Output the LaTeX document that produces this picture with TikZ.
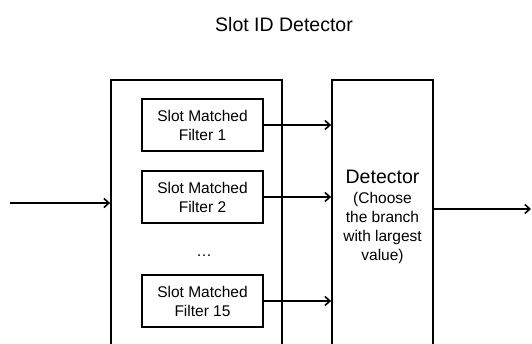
\documentclass[tikz,border=0pt]{standalone}
\usepackage{fontspec}
\setmainfont{Liberation Sans}
\usetikzlibrary{arrows.meta}
\tikzset{
  filterbox/.style={draw,line width=1.6pt,minimum width=121pt,minimum height=52pt,inner sep=0pt,align=center,font=\fontsize{15.5}{19}\selectfont},
  bigbox/.style={draw,line width=1.8pt,inner sep=0pt,minimum height=274pt,align=center},
  arr/.style={line width=1.6pt,-{Straight Barb[length=5pt,width=9pt]}}
}
\begin{document}
\begin{tikzpicture}[x=1pt,y=-1pt]
\useasboundingbox (0,0) rectangle (532,344);
\clip (0,0) rectangle (532,344);
\node (title) at (284,25) {\fontsize{19.5}{23}\selectfont Slot ID Detector};
\node[bigbox,minimum width=171pt] (bank) at (196.5,217) {};
\node[bigbox,minimum width=101pt,font=\fontsize{15.5}{19}\selectfont] (det) at (382.5,217) {{\fontsize{19.5}{23}\selectfont Detector}\\[1pt](Choose\\the branch\\with largest\\value)};
\node[filterbox] (f1) at (202.5,125) {Slot Matched\\Filter 1};
\node[filterbox] (f2) at (202.5,197) {Slot Matched\\Filter 2};
\node[filterbox] (f15) at (202.5,301) {Slot Matched\\Filter 15};
\node (dots) at (204,256) {\fontsize{15.5}{19}\selectfont\dots};
\coordinate (in) at (10,203);
\coordinate (out) at (531,209);
\draw[arr] (in) -- (in -| bank.west);
\draw[arr] (f1.east) -- (f1 -| det.west);
\draw[arr] (f2.east) -- (f2 -| det.west);
\draw[arr] (f15.east) -- (f15 -| det.west);
\draw[arr] (out -| det.east) -- (out);
\end{tikzpicture}
\end{document}
